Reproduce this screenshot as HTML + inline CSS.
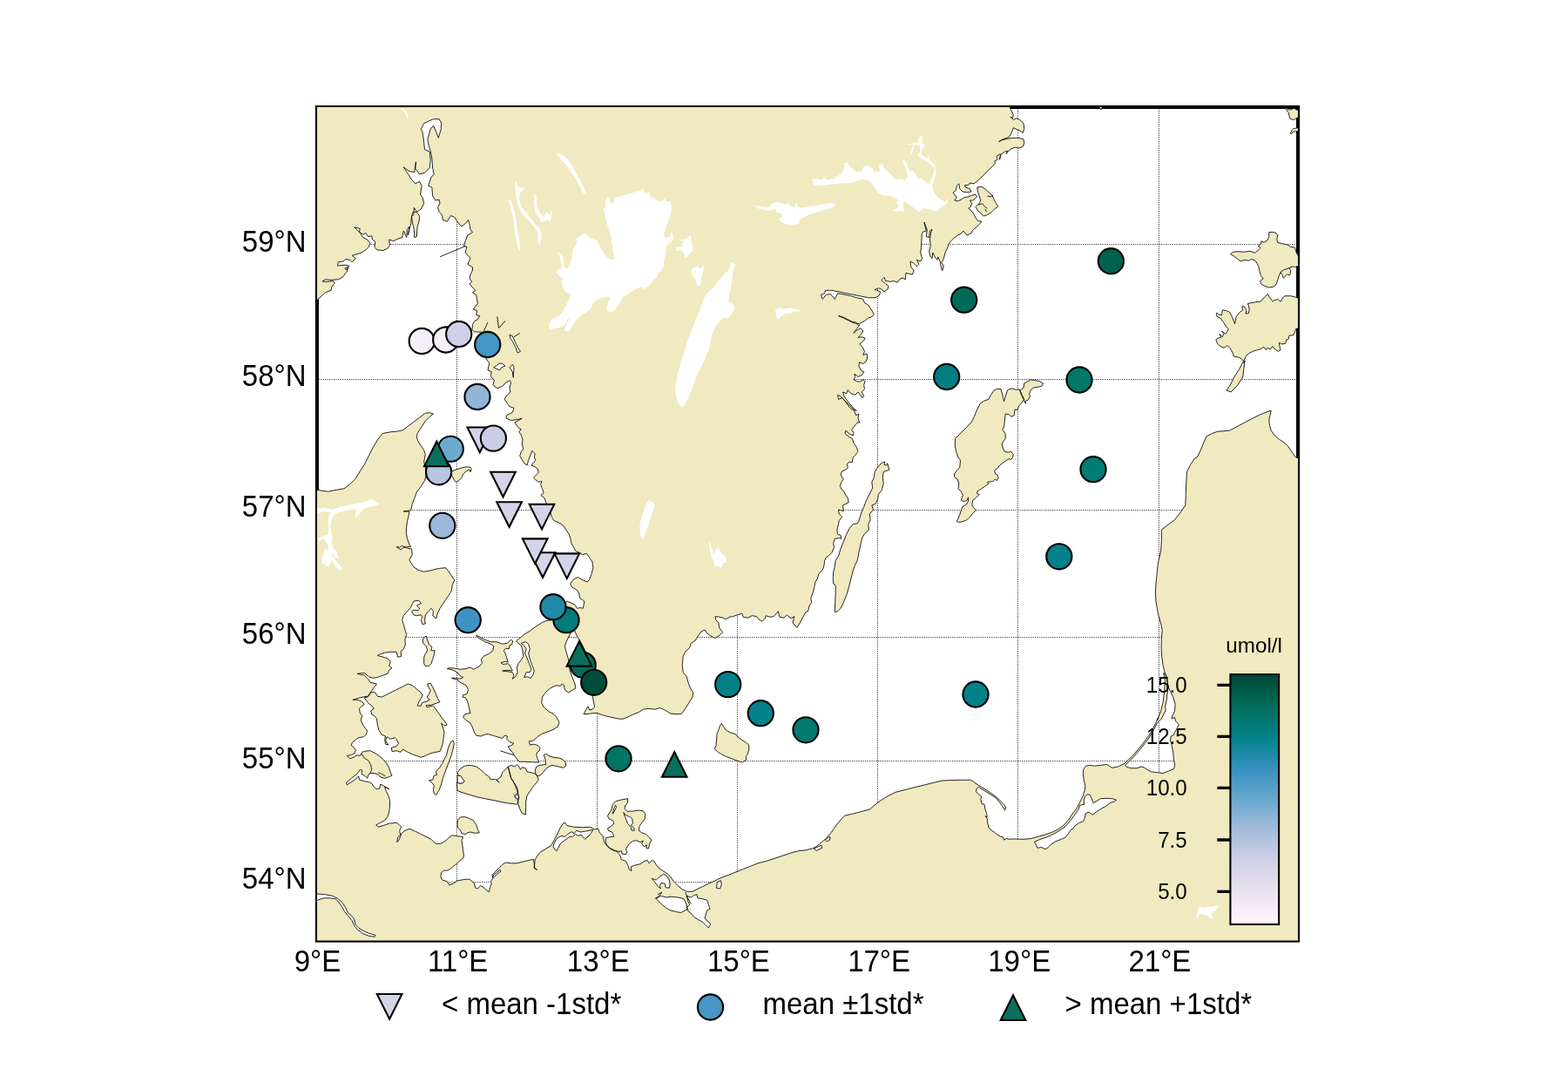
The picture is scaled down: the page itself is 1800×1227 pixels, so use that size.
<!DOCTYPE html>
<html lang="en"><head><meta charset="utf-8"><title>Station map</title>
<style>html,body{margin:0;padding:0;background:#fff}body{width:1800px;height:1227px;overflow:hidden}svg{display:block}text{font-family:"Liberation Sans",Arial,Helvetica,sans-serif;fill:#000}</style>
</head><body>
<svg width="1800" height="1227" viewBox="0 0 1800 1227">
<defs><clipPath id="ax"><rect x="363" y="122" width="1128" height="958.6"/></clipPath>
<linearGradient id="cb" x1="0" y1="1" x2="0" y2="0">
<stop offset="0" stop-color="#fff7fb"/>
<stop offset="0.125" stop-color="#ece2f0"/>
<stop offset="0.25" stop-color="#d0d1e6"/>
<stop offset="0.375" stop-color="#a6bddb"/>
<stop offset="0.5" stop-color="#67a9cf"/>
<stop offset="0.625" stop-color="#3690c0"/>
<stop offset="0.75" stop-color="#02818a"/>
<stop offset="0.875" stop-color="#016c59"/>
<stop offset="1" stop-color="#014636"/>
</linearGradient></defs>
<rect width="1800" height="1227" fill="#fff"/>
<g clip-path="url(#ax)">
<rect x="363" y="122" width="1128" height="958.6" fill="#fff" stroke="#000" stroke-width="6"/>
<path d="M524.5 122 V1080.6M685.5 122 V1080.6M846.5 122 V1080.6M1007.5 122 V1080.6M1168.5 122 V1080.6M1330.5 122 V1080.6M363 1012.5 H1491M363 873.5 H1491M363 731.5 H1491M363 585.5 H1491M363 435.5 H1491M363 280.5 H1491" fill="none" stroke="#000" stroke-width="1" stroke-dasharray="1.3 1.2" opacity="0.72"/>
<path d="M361.7 348.3 L365.8 342.5 L370 339.2 L373.3 335.8 L380 333.3 L380.8 329.2 L384.2 325 L382.5 322.5 L375.8 323.3 L370 323 L373.3 320.8 L380 321.3 L388.3 320.8 L393.3 318.3 L397.5 312.5 L399.2 310.8 L395.8 308.3 L399.2 306.7 L398.3 310 L400.8 305 L395 304.2 L387.5 305 L388.3 300.8 L394.2 300 L396.7 297.5 L401.7 298.3 L404.2 300.8 L408.3 296.7 L404.2 293.3 L410 291.7 L415 290 L420 286.7 L423.3 283.3 L425 279.2 L421.7 275 L416.7 272.5 L413.3 267.5 L406.7 260.8 L413.3 262.5 L412.5 265.8 L416.7 269.2 L420 267.5 L422.5 271.7 L426.7 270.8 L427.5 275 L430.8 277.5 L430 283.3 L432.5 286.7 L440 287.5 L445 285 L447.5 281.7 L446.7 275 L451.7 276.7 L456.7 274.2 L461.7 272.5 L463.3 265 L466.7 272.5 L467.5 263.3 L470 260 L468.3 270 L471.7 256.7 L472.5 248.3 L475 246.7 L475.3 238.3 L478.3 243.3 L483.3 240 L486.7 233.3 L485 226.7 L482.5 223.3 L484.2 213.3 L481.7 208.3 L476.7 210.8 L471.7 205 L467.5 198.3 L463.3 191.7 L470 196.7 L475.8 197.5 L477.5 185.8 L476.7 193.3 L481.7 200 L487.5 198.3 L493.3 192.5 L494.2 183.3 L493.3 174.2 L487.5 171.7 L486.3 160 L485 151.7 L483.3 148.3 L486.7 141.7 L491.7 139.2 L497.5 136.7 L504.2 136.7 L506.7 141.7 L506.3 148.3 L503.3 158.3 L500.8 151.7 L497.5 144.2 L494.2 148.3 L490.8 160 L492.5 168.3 L494.2 173.3 L495.8 181.7 L496.7 193.3 L498.3 200 L495 203.3 L491.7 213.3 L495.8 215 L496.7 225 L500 230 L504.2 229.2 L505 233.3 L502.5 238.3 L504.2 243.3 L507.5 246.7 L508.3 252.5 L513.3 254.2 L517.5 247.5 L521.7 249.2 L524.2 253.3 L526.7 256.7 L530 260 L534.2 256.7 L537.5 252.5 L539.2 258.3 L540 263.3 L542.5 266.7 L536.7 270 L534.2 276.7 L532.5 282.5 L535.8 283.3 L534.2 290 L537.5 293.3 L540 296.7 L536.7 303.3 L542.5 306.7 L542.5 310 L540 315 L539.2 320 L541.7 323.3 L539.2 325.8 L542.5 330 L545.8 333.3 L542.5 335.8 L546.7 338.3 L547.5 343.3 L548.3 348.3 L545.8 351.7 L543.3 355 L547.5 356.7 L546.7 361.7 L550.8 362.5 L548.3 366.7 L545 368.3 L542.5 372.5 L542 378.3 L544.2 380.8 L555 381.3 L556.7 410 L561.7 416.7 L560 425 L564.2 426.7 L563.3 431.7 L567.5 436.7 L565.8 441.7 L570.8 445.8 L576.7 443.3 L580.8 439.2 L585 436.7 L586.7 438.3 L585 445 L585.8 450 L580.8 455 L579.2 458.3 L582.5 463.3 L585 466.7 L590 468.3 L588.3 473.3 L581.7 476.7 L580.8 480 L586.7 482.5 L593.3 481.7 L599.2 480.3 L595 482.5 L590.8 485 L593.3 488.3 L595.8 491.7 L598.3 492.5 L595.8 495.8 L598.3 499.2 L600 505 L599.2 510 L600.8 515 L598.3 518.3 L596.7 523.3 L599.2 527.5 L601.7 531.7 L605 534.2 L606.7 528.3 L609.2 521.7 L610.8 517.5 L614.2 520.8 L613.3 525 L615 528.3 L611.7 531.7 L610 534.2 L614.2 535.8 L617.5 538.3 L618.3 542.5 L615 545.8 L612.5 548.3 L615 550.8 L618.3 553.3 L621.7 552.5 L620.8 556.7 L622.5 560.8 L624.2 565.8 L620.8 568.3 L625 571.7 L626.7 576.7 L630.8 585 L633.3 593.3 L635.8 597.5 L641.7 600 L646.7 603.3 L650 608.3 L653.3 613.3 L655 618.3 L655.8 623.3 L658.3 627.5 L660.8 632.5 L665 634.2 L668.3 636.7 L673.3 635.3 L676.7 640 L680 645 L680.8 651.7 L679.2 658.3 L676.7 665 L674.2 668 L669.2 665.8 L663.3 662.5 L658.3 665 L654.7 670 L656.7 674.2 L661.7 676.7 L664.2 680 L665.8 686.7 L668.3 688.3 L670.8 690 L670 695 L669.2 698.3 L665.8 697.5 L662.5 698.3 L660 694.2 L655 691.7 L650.8 690 L648.3 693.3 L653.3 701.7 L658.3 715 L660 725 L663.3 731.7 L667.5 738.3 L671.7 746.7 L676.7 756.7 L680 766.7 L683.3 776.7 L685 786.7 L682.5 795 L680 798.3 L681.7 806.7 L682.5 811.7 L680 814.2 L676.7 815 L675 810.8 L672.5 815 L670 819.7 L676.7 819.2 L685 818.3 L691.7 820.8 L701.7 823.3 L710 825 L715 825.3 L720 823.3 L726.7 820 L733.3 817.5 L738.3 814.2 L745 813.3 L751.7 814.2 L757.5 812.5 L763.3 815 L770 819.2 L778.3 819.7 L782.5 819.2 L786.7 813.3 L790.8 806.7 L795 800 L795.8 795 L792.5 790 L790 783.3 L788.3 776.7 L784.2 771.7 L783.3 763.3 L784.2 753.3 L786.7 748.3 L791.7 743.3 L793.3 738.3 L798.3 735 L802.5 728.3 L805 725 L809.2 723 L811.7 726.7 L815.8 730 L820.8 732.5 L825 730 L829.7 725.8 L825.8 720.8 L825 715 L821.7 711.7 L821.3 707.5 L826.7 708.3 L830 709.2 L833.3 710.8 L837.5 708.3 L841.7 707.5 L846.7 705.8 L851.7 704.2 L853.3 708.3 L858.3 709.2 L863.3 706.7 L868.3 707.5 L870.8 710.8 L875 713.3 L878.3 710 L879.2 706.7 L884.2 708.3 L888.3 707.5 L893.3 701.7 L895 708.3 L900 709.2 L903.3 705.8 L908.3 710 L911.7 707.5 L910 715 L915 720.3 L918.3 715 L921.7 708.3 L925 702.5 L927.5 701.7 L929.2 695 L931.7 691.7 L930.8 686.7 L933.3 680 L935 673.3 L935.8 668.3 L938.3 664.2 L940 658.3 L944.2 654.2 L945.8 650 L946.7 643.3 L948.3 640 L951.7 637.5 L955 634.2 L957.5 628.3 L956.7 623.3 L958.3 618.3 L963.3 617.5 L965.8 618.3 L965 614.2 L961.7 613.3 L960.8 608.3 L962.5 601.7 L963.3 597.5 L966.7 593.3 L963.3 590 L962.5 585 L968.3 586.7 L967.5 580 L974.2 576.7 L973.3 571.7 L970 566.7 L968.3 563.3 L967.5 563.3 L964.2 558.3 L965.8 553.3 L968.3 550 L965 545 L966.7 540.8 L970.8 539.2 L973.3 536.7 L972.5 532.5 L975 530 L978.3 530.8 L979.2 525 L981.7 522.5 L985 518.3 L983.3 513.3 L980 508.3 L978.3 503.3 L975 501.7 L970 497.5 L970.8 494.2 L975.8 498.3 L979.2 500 L980 496.7 L977.5 493.3 L980 490 L984.2 485 L986.7 485 L985 480 L985.8 475 L982.5 476.7 L980.8 471.7 L975.8 468.3 L971.7 462.5 L966.7 456.7 L962.5 458.3 L961.7 453.3 L965 455 L970 460 L975 465 L980 470 L983.3 471.7 L978.3 466.7 L973.3 460.8 L969.2 455 L967.5 450 L971.7 451.7 L973.3 447.5 L976.7 451.7 L981.7 453.3 L985 450 L990 456.7 L991.7 454.2 L989.2 450 L992.5 446.7 L991.7 441.7 L993.3 437.5 L990.8 435.8 L986.7 438.3 L983.3 437.5 L980 435.8 L981.7 432.5 L980.8 429.2 L985 432.5 L990 430 L991.7 426.7 L988.3 425 L985.8 420 L986.7 415.8 L990.8 417.5 L994.2 415 L995.8 410 L995 405.8 L990.8 407.5 L992.5 403.3 L990 398.3 L986.7 395 L990.8 391.7 L993.3 388.3 L989.2 386.7 L985 387.5 L988.3 384.2 L990.8 380 L988.3 376.7 L983.3 379.2 L980 382.5 L983.3 377.5 L986.7 373.3 L985 373.3 L982.5 370 L978.3 369.2 L973.3 366.7 L968.3 364.2 L962.5 362.5 L968.3 365 L975 368.3 L980 370.8 L986.7 371.7 L992.5 368.3 L996.7 365 L1000 364.2 L1003.3 360.8 L1000 355 L996.7 350 L992.5 347.5 L990.8 343.3 L983.3 341.7 L975 339.2 L966.7 337.5 L961.7 336.7 L958.3 343.3 L953.3 337.5 L948.3 338.3 L944.2 343.3 L942.5 338.3 L946.7 336.7 L947.5 333.3 L955 333.3 L963.3 335 L971.7 336.7 L980 338.3 L988.3 340 L996.7 341.7 L1005 341.7 L1009.2 339.2 L1010.8 335 L1006.7 333.3 L1004.2 332.5 L1008.3 330.8 L1011.7 331.7 L1015 335 L1019.2 331.7 L1020 328.3 L1016.7 325.8 L1011.7 321.7 L1015 318.3 L1016.7 322.5 L1021.7 323.3 L1025.8 322.5 L1030 324.2 L1033.3 320 L1036.7 319.2 L1039.2 320.8 L1040 313.3 L1043.3 314.2 L1047.5 315 L1049.2 310 L1045.8 306.7 L1045 300 L1048.3 301.7 L1052.5 305.8 L1055 303.3 L1052.5 298.3 L1056.7 300 L1058.7 296.7 L1056.7 290 L1057.5 283.3 L1058 275 L1058.3 268.3 L1060 265.8 L1063.3 265 L1060.8 255 L1064.2 263.3 L1063.3 271.7 L1066.7 272.5 L1067.5 265 L1070 263.3 L1068.3 268.3 L1067.5 275 L1068.3 281.7 L1066.7 288.3 L1067.5 293.3 L1070 296.7 L1070.8 290 L1073.3 295 L1075.8 298.3 L1076.7 295 L1079.2 300 L1080 305 L1081.7 310.8 L1083.3 305 L1080.8 301.7 L1083.3 296.7 L1085 290 L1087.5 285 L1089.2 280 L1091.7 276.7 L1095 273.3 L1099.2 270 L1103.3 268.3 L1105.8 265 L1110 270 L1115 267.5 L1116.7 264.2 L1121.7 260 L1125 256.7 L1126.7 254.2 L1122.5 253.3 L1120 250 L1117.5 245 L1115 241.7 L1111.7 239.2 L1114.2 237.5 L1115.8 233.3 L1113.3 230 L1116.7 230 L1121.7 225.8 L1120 223.3 L1115.8 224.2 L1111.7 225.8 L1106.7 226.7 L1103.3 229.2 L1099.2 230.8 L1095.8 230 L1098.3 226.7 L1095.8 223.3 L1094.2 220.8 L1097.5 218.3 L1098.3 213.3 L1100.8 210.8 L1101.7 216.7 L1105 220 L1110 220.8 L1115 220 L1113.3 216.7 L1108.3 215 L1107.5 212.5 L1111.7 212.5 L1113.3 210 L1118.3 210.8 L1123.3 206.7 L1128.3 201.7 L1133.3 196.7 L1138.3 191.7 L1142.5 187.5 L1141.7 185 L1145 183.3 L1144.2 179.2 L1148.3 176.7 L1147.5 183.3 L1149.2 177.5 L1153.3 174.2 L1156.7 173.3 L1155 176.7 L1159.2 171.7 L1165 169.2 L1170 170 L1174.2 168.3 L1175.8 164.2 L1175 160 L1170 158.3 L1163.3 158.3 L1156.7 159.2 L1150 160.8 L1146.7 162.5 L1151.7 159.7 L1158.3 157.5 L1160.8 153.3 L1163.3 146.7 L1166.7 148.3 L1170.8 150 L1174.2 152.5 L1175.8 147.5 L1175 141.7 L1170.8 137.5 L1166.7 135.8 L1163.3 137.5 L1160 134.2 L1162.5 135.8 L1163.3 131.7 L1160.8 126.7 L1159.2 123.3 L1158.3 116.7 L360 100ZM474.2 243.3 L478.3 243.3 L481.7 248.3 L480.8 255 L479.2 260 L478.3 271.7 L475.8 272.5 L475.3 263.3 L473.3 255 L472.5 248.3ZM361.7 562 L370 563.3 L376.7 564.2 L385 562.5 L395 560.8 L401.7 555.8 L408.3 549.2 L413.3 540.8 L418.3 533.3 L423.3 523.3 L428.3 513.3 L433.3 505 L439.2 497.5 L448.3 495.8 L456.7 495 L462.5 493.7 L468.3 489.2 L475 484.2 L481.7 479.2 L488.3 474.2 L493.3 473.8 L497.5 475 L493.3 478.3 L488.3 483.3 L485 488.3 L481.7 493.3 L479.2 497.5 L478.3 501.7 L480 506.7 L483.3 511.7 L486.7 516.7 L488.3 521.7 L486.7 530 L488.3 536.7 L489.2 545 L487.5 551.7 L483.3 558.3 L478.3 565 L475.8 571.7 L473.3 578.3 L471.7 585.8 L463.3 587 L470 587 L469.2 591.7 L467.5 598.3 L466.7 605 L466.3 611.7 L467.5 618.3 L470 625 L471.7 627.5 L464.2 628 L460 630.8 L455 627.5 L458.3 628.3 L461.7 626.7 L467.5 629.2 L472.5 630 L473.3 636.7 L470 642.5 L471.7 645.8 L475 650.8 L480 654.2 L486.7 656.3 L495 654.7 L503.3 652.5 L511.7 651.7 L515 655.8 L518.3 660.8 L521.7 665.8 L519.2 671.7 L518.3 678.3 L515 683.3 L511.7 688.3 L508.3 693.3 L505 698.3 L502.5 703.3 L500.8 710 L496.7 706.7 L497.5 701.7 L495 698.3 L491.7 701.7 L488.3 705.8 L487.5 711.7 L488.3 715.8 L485 716.7 L483.3 711.7 L485 708.3 L483.3 705.8 L478.3 706.7 L475 705.8 L472.5 701.7 L475 700 L480 700.8 L481.7 698.3 L478.3 695 L483.3 692.5 L480.8 689.2 L475 690 L473.3 693.3 L470.8 698.3 L466.7 702.5 L463.3 706.7 L461.7 711.7 L463.3 716.7 L465 723.3 L466.7 728.3 L465 733.3 L465.3 740 L463.3 745 L460 747.5 L460.8 753.3 L456.7 754.2 L455 748.3 L448.3 748.3 L441.7 749.2 L436.7 750.8 L433.3 752.5 L440 754.2 L445 755.8 L448.3 759.2 L446.7 764.2 L450 766.7 L446.7 769.2 L445 773.3 L440 775 L433.3 777.5 L428.3 778.3 L423.3 776.7 L418.3 772.5 L410 773.3 L414.2 774.2 L418.3 775 L422.5 779.2 L425 783.3 L432.5 785 L430 788.3 L426.7 792.5 L425 795 L422.5 799.2 L418.3 799.7 L413.3 800.8 L410 801.7 L405 803.3 L410.8 803.3 L415 805 L418.3 808.3 L415 810.8 L412.5 813.3 L413.3 818.3 L415.8 821.7 L414.2 826.7 L415.8 830 L417.5 833.3 L420 836.7 L421.7 839.2 L420 843.3 L417.5 845.8 L411.7 846.7 L408.3 849.2 L404.2 852.5 L403.3 855.8 L406.7 858.3 L408.3 861.7 L406.7 865 L402.5 866.7 L398.3 867.5 L401.7 870.8 L405.8 869.2 L410 866.7 L413.3 867.5 L415 864.7 L415.8 863.3 L420 862 L425 861.7 L430 864.2 L435 867.5 L440 871.7 L444.2 876.7 L446.7 881.7 L448.3 886.7 L450 890 L446.7 891.7 L441.7 893.3 L436.7 892 L434.2 889.2 L430 887.5 L426.7 887.5 L423.3 888.3 L421.7 893.3 L418.3 890 L415 888.3 L415.8 884.2 L413.3 883.3 L410 888.3 L403.3 893.3 L397.5 898.3 L398.3 900.8 L405 896.7 L410 892.5 L411.7 890.8 L412.5 895 L418.3 896.7 L423.3 897.5 L426.7 899.2 L429.2 903.3 L432.5 905.8 L435.8 905 L436.7 900 L440 901.7 L446.7 905.8 L441.7 903.3 L443.3 908.3 L445.8 913.3 L447.5 918.3 L447.5 925 L446.7 931.7 L445 937.5 L441.7 941.7 L436.7 944.2 L431.7 947 L434.2 949.2 L440 947.5 L446.7 945.3 L455 944.2 L458.3 946.7 L460.8 949.2 L458.7 953.3 L459.7 958.3 L456.7 960.8 L455.8 966.7 L458.3 963.3 L460.8 956.7 L465 953.3 L470 951.3 L476.7 954.2 L483.3 957.5 L490 960.8 L495 963.3 L498.3 966.7 L501.3 968.7 L506.7 968 L511.7 965 L515 961.7 L519.2 958.7 L525 959.7 L530 960.3 L531.7 960.8 L530 964.2 L530.8 970 L531.7 976.7 L532.5 981.7 L531.7 985 L526.7 989.2 L521.7 993.3 L516.7 997.5 L513.3 999.2 L509.2 999.2 L506.7 1001.7 L505.8 1005.8 L507.5 1010 L513.3 1011.7 L515.8 1015.8 L520 1014.2 L525 1010.8 L530 1010 L535 1009.2 L539.2 1009.2 L541.7 1011.7 L544.2 1013.3 L545.8 1019.2 L548.3 1020 L551.7 1016.7 L555 1018.3 L558.3 1021.7 L561.3 1023.7 L562.5 1019.2 L564.2 1014.2 L563.3 1011.7 L565.8 1008.3 L565 1004.2 L568.3 1000.8 L573.3 995.8 L576.7 992.5 L580 990 L586.7 990.8 L593.3 990.8 L600 989.2 L606.7 987.5 L612.5 986.3 L613.3 991.7 L613.3 996.7 L616.7 998.3 L613.3 995.8 L614.2 986.7 L616.7 982.5 L620 978.3 L626.7 974.2 L632.5 970.8 L636.7 963.3 L640 956.7 L643.3 950 L646.7 944.7 L648.7 944.2 L650.8 947.5 L658.3 949.2 L668.3 949.7 L677.5 949.3 L682.5 952 L686.7 951.3 L688.3 955.8 L692.5 960 L693.3 965.8 L695.8 970 L699.2 973.3 L703.3 975.8 L708.3 977.5 L711.7 981.7 L713.3 986.7 L718.3 988.3 L720.8 993.3 L722.5 998.3 L725 999.5 L724.2 995 L728.3 993.3 L735 991.7 L740 988.3 L743.3 987.5 L745 990.8 L748.3 987.5 L750.8 988.3 L753.3 992.5 L756.7 996.7 L761.7 1000 L766.7 1003.3 L770 1006.7 L773.3 1011.7 L778.3 1016.7 L783.3 1020.8 L788.3 1023.3 L795 1023.3 L800 1020.8 L806.7 1017.5 L813.3 1014.2 L820 1011.3 L825 1008.7 L830 1006.7 L836.7 1004.2 L845 1000.8 L853.3 997.5 L861.7 994.2 L870 990.8 L880 988.3 L890 985 L900 981.7 L910 978.3 L916.7 976.7 L925 975.8 L933.3 973.7 L938.3 970.8 L943.3 966.7 L948.3 962.5 L953.3 956.7 L957.5 950.8 L961.7 945 L965.8 940 L969.7 936.3 L978.3 934.2 L988.3 931.7 L998.7 928.8 L1005 923.3 L1011.7 918.3 L1020 913.3 L1028.3 909.2 L1038.3 906.7 L1050 903.7 L1061.7 900.8 L1073.3 898 L1081.7 896 L1091.7 895.5 L1103.3 895.3 L1114.7 895.3 L1120 899.2 L1126.7 903.3 L1133.3 907.5 L1140 912 L1145 915.8 L1149.2 920 L1152.5 923.3 L1154.7 926.7 L1153.7 930 L1150.8 925.8 L1147.5 920.8 L1143.3 915.8 L1136.7 911.7 L1130 907.5 L1123.3 903.3 L1121.3 905 L1120.3 908.3 L1123.3 911.7 L1126.7 914.2 L1125.8 917.5 L1127 922.5 L1130 923.3 L1130.8 928.3 L1132.5 933.3 L1133.3 937.5 L1130.8 937 L1133.3 939.2 L1133.7 945 L1135 950 L1138.3 953.3 L1141.7 955.3 L1145 958.3 L1148.3 960 L1151.7 960.8 L1152.5 964.2 L1155 962.5 L1159.2 963.3 L1163.3 963 L1166.7 963 L1175 963.3 L1183.3 962.5 L1191.7 960.3 L1200 958 L1208.3 955 L1215 951.7 L1221.7 946.7 L1226.7 940.8 L1231.7 933.3 L1236.7 926.7 L1240 920 L1243.3 913.3 L1245.3 906.7 L1245.8 901.7 L1244.2 895 L1243.3 888.3 L1243.7 883.3 L1246.7 879.2 L1250.8 878.3 L1256.7 879.2 L1263.3 878.3 L1270.8 877.5 L1273.3 879.2 L1276.7 881.3 L1283.3 880 L1290 877 L1295 872.5 L1301.7 865.8 L1308.3 858.3 L1313.3 851.7 L1318.3 845 L1322.5 838.3 L1326.7 830 L1330 823.3 L1328.3 826.7 L1332.5 816.7 L1335 806.7 L1336.7 793.3 L1337.5 781.7 L1335.7 772.5 L1337.3 773.3 L1340 778.3 L1340.8 790 L1339.2 803.3 L1337.5 811.7 L1338.3 815 L1335.8 820 L1333.3 825 L1328.3 830 L1324.2 838.3 L1319.2 846.7 L1314.2 853.3 L1308.3 860.8 L1301.7 868.3 L1295.8 874.2 L1291.7 878.7 L1293.3 880.3 L1298.3 881.7 L1305 881.7 L1310 880 L1313.3 880.8 L1316.7 883.3 L1321.7 885.8 L1328.3 886.7 L1335 887.5 L1341.7 885 L1347.5 882.5 L1348.7 878.3 L1347.5 871.7 L1346.7 863.3 L1345 855 L1343.3 850 L1344.2 845 L1346.7 844.2 L1350.8 836.7 L1353.3 831.7 L1350 828.3 L1348.3 823.3 L1345 825 L1345 823.3 L1348.3 816.7 L1349.2 808.3 L1346.7 800 L1341.7 790 L1338.7 776.7 L1336.7 770.3 L1335 763.3 L1333.7 753.3 L1333 743.3 L1333.3 733.3 L1334.2 723.3 L1332.5 715 L1330 706.7 L1328.3 698.3 L1327 690 L1326.3 680 L1327 670 L1328.3 656.7 L1329.2 648.3 L1330 643.3 L1332.5 633.3 L1333.3 621.7 L1333.3 608.3 L1341.7 601.7 L1348.3 596.7 L1355 588.3 L1360.8 580 L1361.3 568.3 L1361.7 555 L1362.5 541.7 L1366.7 533.3 L1371.7 525.8 L1374.2 525 L1378.3 516.7 L1381.7 508.3 L1385 500.8 L1391.7 497.5 L1397.5 495.3 L1405 494.7 L1411.3 494.2 L1420 489.7 L1428.3 485.3 L1436.7 480.8 L1446.7 475.8 L1455 472.5 L1459.2 471.3 L1458 476.7 L1456.7 482.5 L1457.5 488.3 L1459.2 494.2 L1463.3 500 L1468.3 504.2 L1473.3 507.5 L1478.3 511.7 L1481.7 516.7 L1485 521.7 L1487.5 525 L1493.3 526.7 L1495 1085 L360 1085ZM546.7 729.2 L550 730.8 L556.7 734.2 L563.3 736.7 L570 736.7 L576.7 739.2 L582.5 738.3 L586.7 734.2 L588.7 735.8 L587.5 740 L585 740.8 L584.2 745 L580.8 744.2 L578.3 746.7 L580 750 L581.7 755 L583.3 760 L580 759.2 L575 760.8 L577.5 762.5 L583.3 761.7 L585.8 765 L588.3 770 L581.7 769.2 L576.7 770 L583.3 770.8 L588.3 771.7 L590 775 L588.3 779.2 L591.7 776.7 L594.2 771.7 L593.3 766.7 L595 761.7 L598.3 757.5 L600.8 753.3 L600 746.7 L598.3 740.8 L595 738.3 L592.5 735.8 L596.7 732.5 L601.7 728.3 L608.3 724.2 L615 719.2 L621.7 715 L626.7 712.5 L633.3 711.7 L643.3 713.3 L651.7 716.7 L656.7 722.5 L653.3 730 L650.8 735 L648.3 741.7 L650 748.3 L652.5 756.7 L653.3 763.3 L654.2 770 L656.7 776.7 L660 785 L660.8 790 L655 793.3 L652.5 795 L648.3 791.7 L647.5 786.7 L645 785 L643.3 787.5 L638.3 786.7 L631.7 790 L626.7 794.2 L622.5 800 L621.7 806.7 L624.2 811.7 L630 816.7 L635 819.2 L638.3 822.5 L641.7 828.3 L642 830 L640 834.2 L635 837.5 L628.3 840 L621.7 842.5 L616.7 845.8 L613.3 849.2 L612.5 850 L607.5 850.8 L608.3 855 L613.3 854.2 L617.5 855.8 L620 858.3 L619.2 861.7 L616.7 863.3 L615.8 866.7 L617.5 871.7 L618.7 875 L610 874.7 L601.7 874.3 L595.8 874.2 L593.3 870.8 L590 866.7 L588.3 863.3 L585 860 L583.3 856.7 L586.7 855.8 L590 853.3 L585 851.7 L581.7 848.3 L582.5 845 L579.2 844.2 L576.7 847.5 L568.3 845 L560 842.5 L556.7 843.3 L551.7 845 L546.7 844.2 L544.2 840 L542.5 835 L540 830 L535 826.7 L531.7 823.3 L533.3 820 L540 818.3 L538.3 811.7 L536.7 805 L534.2 800.8 L530.8 800 L531.7 797.5 L535.8 796.7 L537.5 791.7 L535 786.7 L528.3 783.3 L525 780 L523.3 780 L518.3 778.3 L523.3 778.3 L528.3 779.2 L531.7 777.5 L528.3 775.8 L525 771.7 L520 769.2 L513.3 767.5 L515 766.7 L521.7 767 L528.3 768.3 L535 767.5 L540 765.8 L543.3 768.3 L546.7 766.7 L550 765 L553.3 761.7 L552.5 756.7 L555 753.3 L561.7 750 L565.8 746.7 L566.7 741.7 L563.3 739.2 L556.7 736.7 L548.3 731.7ZM426.7 794.2 L430.8 795 L433.3 799.2 L438.3 800 L445 796.7 L453.3 792.5 L461.7 788.3 L468.3 785 L473.3 786.7 L478.3 790.8 L483.3 795 L485 798.3 L483.3 801.7 L480.8 805.8 L479.2 810 L483.3 810.3 L484.2 806.7 L490 805 L493.3 803.3 L490 800 L492.5 796.7 L494.2 792.5 L491.7 788.3 L490.8 785 L494.2 784.2 L497.5 790 L500 795.8 L502.5 801.7 L505 805.8 L500 807.5 L495 809.2 L489.2 809.7 L490 811.7 L496.7 810 L500 813.3 L503.3 818.3 L506.7 823.3 L510 827.5 L513.3 831.7 L510 833.3 L506.7 830 L508.3 835 L510 840 L509.2 846.7 L508.3 853.3 L506.7 858.3 L505 862.5 L500 863.3 L493.3 865 L488.3 867.5 L483.3 869.2 L478.3 867.5 L473.3 865.8 L470 864.2 L466.7 862.5 L462.5 860 L460 863.3 L455 861.7 L450 862.5 L449.2 858.3 L455 856.7 L457.5 853.3 L455 848.3 L453.3 846.7 L448.3 848.3 L444.2 845.8 L442.5 850 L445.8 855 L442.5 854.2 L441.7 848.3 L442.5 845 L438.3 843.3 L435 838.3 L433.3 831.7 L432.5 825 L430 821.7 L426.7 820 L425.8 815.8 L429.2 813.3 L426.7 810 L423.3 807.5 L420 803.3 L418.3 800.8 L422.5 799.7ZM486.7 731.7 L489.2 730 L490.8 735 L492.5 740 L495.8 742.5 L495 746.7 L499.2 746.7 L498.3 751.7 L496.7 756.7 L495 761.7 L492.5 764.2 L488.3 764.7 L486.7 761.7 L486.7 755 L487.5 751.7 L490.8 746.7 L489.2 741.7 L485.8 738.3 L485.3 734.2ZM520 850 L521.3 853.3 L520 860 L518.3 866.7 L515.8 873.3 L513.3 880 L510.8 886.7 L508.3 893.3 L506.7 900 L504.2 906.7 L500.8 912.5 L498.3 910.8 L497.5 906.7 L498.3 901.7 L495.8 898.3 L492.5 895.8 L496.7 895 L498.3 890 L501.7 889.2 L500 885.8 L504.2 881.7 L507.5 876.7 L510 871.7 L512.5 866.7 L514.2 860 L515.8 855 L518.3 850.8ZM525 886.7 L528.3 882.5 L533.3 879.2 L540 878.3 L546.7 880 L551.7 883.3 L556.7 888.3 L561.7 891.7 L563.3 895 L568.3 894.2 L573.3 898.3 L570 895 L575 891.7 L576.7 886.7 L580 883.3 L583.3 880 L585 886.7 L586.7 893.3 L590 898.3 L593.3 903.3 L595 910 L591.7 912.5 L590.8 915 L594.2 916.7 L595 920.8 L593.3 923.3 L588.3 922.5 L581.7 921.7 L573.3 920 L565 918.3 L556.7 916.7 L548.3 915 L540 912.5 L531.7 910 L525 907.5 L524.2 898.3 L530 899.2 L533.3 896.7 L529.2 895 L526.7 891.7ZM583.3 880 L586.7 878.3 L590.8 880 L593.3 877.5 L595.8 880 L597.5 883.3 L599.2 880.8 L603.3 881.7 L605 885.8 L610 886.7 L615 888.3 L616.7 890.8 L618.3 895 L615.8 898.3 L611.7 903.3 L608.3 908.3 L605 913.3 L603.7 920 L603.7 926.7 L603.3 935 L599.2 933.3 L596.7 928.3 L595 923.3 L594.2 920 L595.8 915.8 L595 911.7 L593.3 906.7 L590 898.3 L586.7 893.3 L585 886.7ZM614.2 884.2 L615.8 880 L620 878.3 L626.7 877.5 L625.8 870.8 L624.2 866.7 L626.7 865 L630 867.5 L635 869.2 L641.7 870 L645.8 871.7 L649.2 875 L649.7 879.2 L646.7 881.3 L641.7 880 L637.5 879.2 L633.3 878.3 L630 880 L626.7 882.5 L623.3 886.7 L620 890 L616.7 890.8 L615 888.3ZM525 945 L525.8 940.8 L528.3 938 L533.3 937.5 L538.3 939.2 L543.3 941.7 L546.7 946.7 L548.3 951.7 L550.3 955.8 L545 956.3 L540 955 L536.7 955.8 L534.2 957.5 L530 956.7 L528.3 952.5 L525.3 950ZM516.7 543.3 L518.3 540.8 L523.3 539.2 L528.3 537.5 L535 535.8 L540 536.3 L541.3 538.3 L540 541.7 L539.2 539.2 L535 540.8 L531.7 544.2 L530 548.3 L526.7 551.7 L523.3 553.3 L520.8 550 L519.2 546.7ZM828.3 830.3 L830.8 834.2 L833.3 838 L838.3 840.8 L844.2 842.5 L846.7 845.8 L851.7 849.2 L856.7 852.5 L859.7 855 L859.7 860.8 L858.3 865.8 L856.3 868.3 L856.7 872 L852.5 875 L846.7 873.3 L840 870.8 L833.3 868.3 L827.5 865.3 L823.3 862.5 L820.3 859.7 L822 855.8 L822.5 850 L823 842.5 L825.3 836.7 L826.7 832.5ZM698.3 935 L701.7 930 L703.3 923.3 L706.7 919.7 L713.3 918 L720.8 916.7 L720.3 921.7 L717.5 925 L717 928.3 L720 931.3 L726.7 931 L733.3 930 L738.3 930.8 L740.8 934.2 L740.3 940 L736.7 944.2 L734.2 948.3 L733.3 953.3 L736.7 955.8 L741.7 957.5 L745 960.8 L748 964.2 L745.8 968.3 L744.2 974.2 L741.7 973.3 L742.5 970 L739.2 971.7 L736.7 968.3 L738.3 965 L735 966.7 L730.8 964.7 L726.7 965.3 L722.5 968.3 L720 971.7 L718.3 975 L720 977.5 L718.3 980.8 L714.2 980 L713.3 976.7 L710 977.5 L705 975.8 L700 973.3 L696.7 970 L695 965.8 L695.8 961.7 L700 960.8 L705 960 L702.5 955 L698.3 953.3 L697.5 950.8 L701.7 948.3 L705 945 L703.3 941.7 L699.2 940 L697.5 936.7ZM1013.3 530.8 L1015.8 530 L1015 533.3 L1017.5 534.2 L1018.7 531.7 L1020.8 539.2 L1016.7 540.8 L1014.2 541.7 L1013.3 548.3 L1014.2 555 L1012.5 561.7 L1011.7 563.3 L1008.3 567.5 L1007.5 573.3 L1005 578.3 L1000.8 580 L1002.5 585 L998.3 590 L999.2 596.7 L996.7 601.7 L997.5 608.3 L993.3 611.7 L990 616.7 L988.3 623.3 L985.8 635 L984.2 643.3 L981.7 648.3 L979.2 655 L976.7 665 L974.2 675 L971.7 683.3 L968.3 691.7 L965 698.3 L961.7 701.7 L958.3 702.5 L958.7 691.7 L959.2 680 L959.2 671.7 L956.7 670 L956.3 663.3 L956.7 656.7 L958.3 650 L959.2 643.3 L962.5 638.3 L965 630 L968.3 621.7 L971.7 613.3 L975 606.7 L979.2 601.7 L984.2 600.8 L985.8 598.3 L988.3 590 L991.7 581.7 L995 573.3 L998.3 566.7 L1001.7 560 L1000.8 553.3 L1003.3 548.3 L1004.2 541.7 L1006.7 537.5 L1010 533.3ZM1096.7 503.3 L1100 500 L1105 495 L1110 490 L1115 485 L1118.3 478.3 L1121.7 470 L1125 463.3 L1130 460 L1135 458.3 L1137.5 453.3 L1140.8 448.3 L1145 446.3 L1149.2 446.7 L1150.8 453.3 L1152.5 460.8 L1154.2 455 L1156.7 447.5 L1161.7 445.8 L1166.7 447.5 L1170 446.7 L1173.3 453.3 L1175.8 458.3 L1173.3 461.7 L1170 465.8 L1167.5 470.8 L1165 470 L1164.2 476.7 L1160.8 478.3 L1158.3 475.8 L1154.2 475 L1153.3 483.3 L1152.5 490 L1150.8 493.3 L1154.2 498.3 L1154.2 503.3 L1151.7 506.7 L1150 510 L1151.7 515 L1153.3 518.3 L1157.5 519.2 L1160.8 518.3 L1163.3 521.7 L1162.5 525 L1160.8 527.5 L1158.3 526.7 L1154.2 529.2 L1150.8 531.7 L1147.5 534.2 L1145 537.5 L1141.7 540 L1142.5 543.7 L1145 545 L1146.3 548.3 L1144.2 551.7 L1142.5 550 L1140 552.5 L1133.3 553.3 L1135 555 L1131.7 557.5 L1126.7 560.8 L1121.7 564.2 L1121.7 566.7 L1124.2 567.5 L1120 571.7 L1116.7 574.2 L1115.8 580 L1117.5 582.5 L1120.3 585.8 L1116.7 589.2 L1113.3 593.3 L1110 596.7 L1105 598.7 L1100.8 599.5 L1098.3 598.3 L1100 595 L1101.7 590.8 L1103.3 585.8 L1105 581.7 L1109.2 579.2 L1111.3 575.8 L1111.7 570.8 L1110 574.2 L1106.7 575.8 L1103.3 574.2 L1104.2 571.7 L1105.3 568.3 L1103.3 564.2 L1100 560.8 L1100.8 555 L1099.2 550 L1095.8 547.5 L1095.3 544.2 L1098.3 540 L1101.7 536.7 L1102.5 528.3 L1100 525 L1097.5 518.3 L1096.3 511.7 L1096.7 503.3ZM1170.8 448.3 L1175 445 L1175.8 440 L1180 437.5 L1183.3 435.8 L1188.3 436.7 L1193.3 437.5 L1197.5 440 L1195.8 443.3 L1191.7 444.2 L1186.7 445 L1183.3 447.5 L1181.7 451.7 L1182.5 455 L1180 459.2 L1176.7 460.8 L1177.5 463.3 L1175 458.3 L1172.5 453.3ZM1121.7 215 L1126.7 214.2 L1130.8 216.7 L1135 220.8 L1138.3 223.3 L1140.8 228.3 L1143.3 233.3 L1145.8 236.7 L1141.7 240 L1138.3 243.3 L1133.3 246.7 L1129.2 248 L1125.8 245 L1122.5 241.7 L1120 237.5 L1123.3 234.2 L1125.8 230 L1124.2 225 L1122.5 220ZM1412.5 291.7 L1415.8 289.2 L1421.7 288.7 L1428.3 289.2 L1435 288.3 L1440.8 290.3 L1445 286.7 L1446.7 284.2 L1444.2 282.5 L1447.5 280 L1448 276.7 L1450.8 278.3 L1455 275.8 L1456.7 271.7 L1456.7 266.7 L1460.8 266.3 L1465 267.5 L1466.7 270 L1465.8 275 L1466.7 278.3 L1471.7 279.7 L1477.5 280.8 L1481.7 283.3 L1486.7 284.2 L1487.5 288.3 L1490 293.3 L1496.7 293.3 L1496.7 305 L1490.8 305 L1486.7 306.7 L1484.2 305.8 L1480 307.5 L1481.7 310.8 L1480.8 315.8 L1477.5 315 L1473.3 319.2 L1471.7 315 L1470 312.5 L1468.3 316.7 L1466.7 321.7 L1465 326.7 L1461.7 329.2 L1456.7 330 L1451.7 328.3 L1447.5 325.8 L1446.7 322.5 L1450 320 L1447.5 316.7 L1445.8 310.8 L1445 306.7 L1443.3 302.5 L1440.8 299.2 L1436.7 297.5 L1433.3 299.2 L1428.3 298.3 L1424.2 300 L1420 296.7 L1416.7 294.2ZM1396.7 359.2 L1399.2 360.8 L1402.5 361.7 L1403.3 355.8 L1408.3 356.7 L1411.7 358.3 L1415 365 L1417.5 371.7 L1419.2 363.3 L1423.3 358.3 L1426.7 355.8 L1425.8 351.7 L1428.3 351.7 L1430.8 355.8 L1430 360 L1433.3 359.7 L1434.2 355 L1432.5 348.3 L1440 347 L1447.5 345.8 L1451.7 340.8 L1455.3 337.5 L1458.3 342.5 L1460.8 345.8 L1464.2 344.2 L1466.7 343.3 L1470 346.3 L1472.5 341.7 L1475 339.7 L1481.7 339.7 L1486.7 340.8 L1490.8 342.5 L1496.7 342.5 L1496.7 376.7 L1490.8 376.7 L1487.5 377.5 L1486.7 380.8 L1484.2 385 L1480 385 L1479.2 389.2 L1476.7 390 L1475.8 394.2 L1471.7 395 L1468.3 393.3 L1469.2 398.3 L1470 401.7 L1467.5 403.3 L1463.3 400.8 L1460.8 397.5 L1458.3 400.8 L1455 399.2 L1453.3 401.7 L1450.8 398.3 L1446.7 400.8 L1443.3 401.7 L1438.3 403.3 L1433.3 405.8 L1430 409.2 L1428.3 413.3 L1428 416.7 L1429 414 L1426.7 433 L1420 443 L1413 450 L1408 448 L1411.7 443 L1416.7 433 L1423 423 L1425.8 417.5 L1427.5 414.2 L1425 411.7 L1421.7 410 L1416.7 409.2 L1415 405 L1413.3 401.7 L1411.7 399.2 L1409.2 396.7 L1405 399.2 L1400.8 397.5 L1397.5 394.2 L1395.8 390 L1397.5 388.3 L1401.7 387.5 L1400 383.3 L1403.3 386.7 L1405 382.5 L1402.5 380 L1406.7 383.3 L1409.2 380 L1410 377.5 L1407.5 375 L1405.8 371.7 L1403.3 368.3 L1400.8 365 L1397 363.3 L1396.3 360.8ZM1475 122.9 L1477.1 124.2 L1478.3 125.8 L1482.5 125.8 L1485.4 124.2 L1487.5 125.8 L1491.7 126.7 L1491.7 135 L1489.2 135 L1486.7 136.7 L1484.2 137.5 L1481.2 136.2 L1480 133.3 L1479.2 129.2 L1477.1 126.7ZM1481.2 153.3 L1483.3 149.2 L1485 147.5 L1491.7 146.7 L1491.7 150.4 L1486.7 150.8 L1484.2 151.7 L1482.5 153.3ZM1261 122 L1266 122 L1264 126Z" fill="#f1e9bf" stroke="#000" stroke-width="0.85" stroke-linejoin="round" fill-rule="evenodd"/>
<path d="M361.7 583.3 L373.3 583.3 L381.7 585 L390 581.7 L398.3 580 L406.7 578.3 L415 576.7 L423.3 574.2 L426.7 572.5 L430 574.2 L435.8 578.3 L430 580.8 L423.3 581.7 L418.3 583.3 L415 586.7 L411.7 591.7 L408.3 595 L407.5 590 L410 585 L403.3 585 L395 586.7 L388.3 588.3 L383.3 591.7 L380.8 596.7 L379.2 603.3 L380 610 L381.7 616.7 L380.8 623.3 L383.3 630 L386.7 633.3 L388.3 641.7 L385 640 L381.7 635 L379.2 638.3 L380 645 L377.5 650 L373.3 650 L374.2 643.3 L375.8 635 L376.7 626.7 L373.3 620 L370 618.3 L366.7 621.7 L365 618.3 L371.7 615 L376.7 613.3 L377.5 606.7 L376.7 600 L377.5 593.3 L379.2 588.3 L373.3 586.7 L368.3 588.3 L361.7 590ZM373.3 630 L378.3 633.3 L383.3 640 L388.3 646.7 L393.3 651.7 L390 655 L385 650 L381.7 645 L377.5 640 L374.2 645 L370 648.3 L369.2 641.7 L371.7 635 L372.5 630ZM705 226.7 L713.3 225 L720 222.5 L728.3 220.8 L733.3 219.2 L738.3 216.7 L740.8 221.7 L745.8 220.8 L747.5 227.5 L750 226.7 L755 230.8 L760 231.7 L762.5 226.7 L765 231.7 L770 230.8 L770.8 238.3 L770 246.7 L766.7 255 L764.2 261.7 L761.7 268.3 L764.2 273.3 L769.2 271.7 L770.8 265 L773.3 273.3 L770 278.3 L765 281.7 L764.2 290 L762.5 298.3 L761.7 306.7 L759.2 310.8 L755.8 313.3 L754.2 318.3 L750 321.7 L746.7 326.7 L741.7 330 L738.3 332.5 L736.7 329.2 L730 331.7 L725 335 L720 338.3 L715 340.8 L712.5 345 L710 350 L706.7 355 L702.5 357.5 L697.5 357.5 L696.3 353.3 L698.3 346.7 L700.8 341.7 L696.7 340.8 L690 341.7 L683.3 345 L680 349.2 L678.3 354.2 L673.3 358.3 L666.7 362.5 L661.7 366.7 L657.5 373.3 L654.2 379.2 L650 380.8 L647.5 378.3 L650 373.3 L653.3 366.7 L655 364.2 L651.7 366.7 L648.3 373.3 L643.3 375.8 L636.7 376.7 L630.8 378.3 L630 373.3 L632.5 367.5 L636.7 364.2 L641.7 362.5 L645.8 357.5 L650 350 L653.3 343.3 L655.8 338.3 L650 335.8 L646.7 331.7 L645 325 L645.8 318.3 L641.7 316.7 L638.3 313.3 L640 309.2 L644.2 308.3 L644.2 300 L642.5 295 L639.2 289.2 L641.7 290 L646.7 295.8 L647.5 306.7 L651.7 308.3 L654.2 303.3 L656.7 295 L657.5 286.7 L661.7 280 L662.5 273.3 L666.7 270 L670.8 268.3 L675 270 L676.7 273.3 L681.7 274.2 L685.8 276.7 L688.3 281.7 L690.8 286.7 L693.3 290.8 L696.7 295 L701.7 298.3 L705 296.7 L704.2 290 L702.5 280 L700.8 270 L698.3 261.7 L695.8 253.3 L694.2 245 L692.5 240 L695 237.5 L694.7 231.7 L697.5 225 L700 228.3 L700.8 233.3 L704.2 233.3ZM840 300.8 L844.2 304.2 L841.7 310 L840.8 316.7 L840 325 L838.3 333.3 L836.7 341.7 L835.8 345.8 L841.7 348.3 L843.3 355 L840 360 L836.7 365 L831.7 364.2 L828.3 366.7 L823.3 371.7 L820 378.3 L816.7 385 L815.8 391.7 L814.2 400 L808 415 L800 430 L795 445 L790 458 L783 468 L778 462 L775 448 L777 432 L782 415 L786.7 400 L788.3 393.3 L791.7 385 L795 376.7 L798.3 368.3 L801.7 360 L805 351.7 L807.5 345 L810 338.3 L815 333.3 L820 328.3 L825 321.7 L829.2 316.7 L832.5 313.3 L836.7 310 L838.3 305ZM780 275 L786.7 274.2 L793.3 270 L794.2 278.3 L795.8 286.7 L791.7 291.7 L786.7 296.7 L785 290 L781.7 287.5 L775 287.5 L776.7 284.2 L783.3 282.5 L784.2 278.3ZM794.2 308.3 L800 305.8 L805 308.3 L806.7 304.2 L808.3 306.7 L805.8 316.7 L804.2 328.3 L800 327.5 L798.3 320 L795 316.7 L793.3 311.7ZM639.3 176 L645 177.3 L651.7 182.7 L656.7 190 L660.7 197.3 L665 205 L669.3 213.3 L673.3 224 L670 222.7 L666 215 L661.7 207.3 L656.7 199.3 L651.7 191.7 L646 185 L640.7 180ZM613.3 223.3 L615.8 224.2 L616.7 238.3 L620 245 L624.2 248.3 L628.3 243.3 L630 247.5 L634.2 240.8 L633.3 248.3 L630.8 255 L629.2 251.7 L625 254.2 L621.7 255 L617.5 248.3 L614.2 241.7 L613 233.3ZM598.3 239.2 L605 245 L610 251.7 L616.7 260 L621.7 266.7 L620.8 275 L619.2 281.7 L617.5 276.7 L618.3 268.3 L614.2 261.7 L608.3 254.2 L603.3 248.3 L598.3 244.2ZM595 214.2 L600 215.8 L603.3 216.7 L600 218.3 L595 217.5ZM865.8 235.8 L873.3 236.7 L881.7 238.3 L886.7 233.3 L891.7 231.7 L898.3 233.3 L900 234.2 L900 235 L904.2 233.3 L907.5 235.8 L911.7 238.3 L914.2 232.5 L915.8 237.5 L921.7 238.3 L930 236.7 L938.3 235.8 L946.7 234.2 L955 233 L960 234.2 L956.7 238.3 L950 240 L943.3 241.7 L936.7 244.2 L930 245.8 L923.3 249.2 L918.3 251.7 L916.7 256.7 L910 258.3 L903.3 257.5 L900 256.7 L896.7 255 L893.3 251.7 L898.3 248.3 L896.7 245 L891.7 244.2 L890 240 L883.3 241.7 L876.7 240.8 L870 239.2ZM890 355 L895 353.3 L900 354.2 L906.7 353.3 L913.3 355 L920 356.7 L911.7 358.3 L905 360 L900 360.8 L896.7 363.3 L893.3 366.7 L890.8 361.7ZM932.5 205.8 L938.3 205 L944.2 206.7 L945.8 202.5 L949.2 206.7 L956.7 205 L965 200 L968.3 195.8 L970 186.7 L973.3 187.5 L976.7 192.5 L981.7 196.7 L988.3 197.5 L990.8 191.7 L996.7 190 L1001.7 193.3 L1003.3 197.5 L1010 196.7 L1009.2 190 L1012.5 188.3 L1016.7 195.8 L1021.7 198.3 L1025 203.3 L1028.3 206.7 L1033.3 205 L1038.3 207.5 L1041.7 203.3 L1040 193.3 L1035.8 185 L1038.3 183.3 L1041.7 190 L1045 196.7 L1048.3 195.8 L1050.8 200 L1053.3 205 L1057.5 204.2 L1061.7 208.3 L1066.7 211.7 L1068.3 206.7 L1071.7 200 L1072.5 193.3 L1066.7 186.7 L1060 183.3 L1053.3 178.3 L1056.7 173.3 L1055.8 166.7 L1050 165.8 L1046.7 176.7 L1045 177.5 L1048.3 165.8 L1039.2 165.5 L1050 164.2 L1053.3 164.2 L1055.8 156.7 L1059.2 155.8 L1058.3 164.2 L1061.7 166.7 L1058.3 171.7 L1057.5 176.7 L1064.2 182.5 L1065.8 176.7 L1067.5 183.3 L1073.3 190 L1075 198.3 L1071.7 206.7 L1070 215 L1071.7 220 L1076.7 226.7 L1081.7 230 L1085.8 231.7 L1087.5 226.7 L1088.3 231.7 L1085 235 L1080 238.3 L1076.7 242.5 L1071.7 241.7 L1065 240 L1060 239.2 L1055 243.3 L1050.8 240 L1046.7 236.7 L1041.7 233.3 L1037.5 231.7 L1036.7 238.3 L1037.5 242.5 L1026.7 242.5 L1024.2 241.7 L1030 239.2 L1031.7 235 L1028.3 233.3 L1031.7 230 L1026.7 226.7 L1020 224.2 L1013.3 224.2 L1008.3 221.7 L1005 216.7 L1001.7 211.7 L996.7 206.7 L990 205.8 L983.3 207.5 L976.7 210 L970 210 L961.7 210.8 L955 211.7 L946.7 212.5 L940 213.3 L935 213.3 L933.3 210ZM590.8 206.7 L593.3 210 L595 216.7 L600 215 L603.3 216.7 L597.5 220 L595.8 226.7 L598.3 236.7 L603.3 243.3 L608.3 251.7 L613.3 256.7 L620 263.3 L621.7 273.3 L620 280 L617.5 275 L617.5 266.7 L613.3 260.8 L606.7 253.3 L600.8 246.7 L595.8 238.3 L593.3 230 L591.7 220ZM582.5 228.3 L586.7 230 L590 240 L592.5 251.7 L593.3 261.7 L595 270 L596.7 280 L597.5 290 L594.2 283.3 L592.5 275 L590.8 266.7 L590 256.7 L588.3 246.7 L585.8 236.7ZM460 124.2 L465 125.8 L468.3 131.7 L468 137.5 L465.8 131.7 L463.3 127.5ZM745 575 L750 576.7 L751.7 580 L749.2 586.7 L746.7 595 L744.2 603.3 L740.8 613.3 L737.5 620 L735 613.3 L734.2 603.3 L736.7 593.3 L740 583.3 L742.5 576.7ZM813.3 621.7 L815.8 624.2 L817.5 630 L819.2 636.7 L821.7 630 L824.2 627.5 L826.7 633.3 L830 636.7 L833.3 640 L834.2 645 L830 646.7 L828.3 651.7 L824.2 650 L820.8 650.8 L820 645 L816.7 640 L815 633.3ZM1376.3 1040.5 L1381 1041.7 L1386.8 1041.1 L1392.7 1039.9 L1399.1 1039.3 L1397.9 1043.4 L1393.8 1045.8 L1390.3 1048.7 L1391.5 1052.2 L1392.1 1055.7 L1389.2 1053.3 L1385.7 1050.4 L1382.2 1049.8 L1378.7 1048.7 L1375.2 1052.2 L1374 1056.8 L1373.8 1049.8 L1375.2 1045.2Z" fill="#fff"/>
<path d="M585 384.2 L588.3 385.8 L591.7 393.3 L595 400 L597.5 403.3 L594.2 405 L591.7 398.3 L588.3 391.7 L585.8 388.3ZM566.7 421.7 L570.8 419.2 L573.3 416.7 L576.7 417.5 L580 420 L575.8 421.7 L573.3 425 L570 423.3ZM585 421.7 L588.3 418.3 L590 421.7 L589.2 433.3 L588.3 426.7ZM1187.5 966.3 L1193.3 963.7 L1201.7 960.8 L1210 957 L1216.7 953 L1223 948.7 L1228.3 942.5 L1233.3 935.8 L1238 929.2 L1239.7 924.2 L1244.7 923.3 L1244.2 919.2 L1245.3 914.7 L1248 911.7 L1251.3 912.5 L1253.3 917 L1255 921.7 L1259.2 919.2 L1263.3 916.7 L1270 916.3 L1276.7 916.7 L1281.7 918.3 L1279.2 920 L1275 921.3 L1270 925 L1263.3 928.7 L1258.3 932 L1254.2 935.3 L1250 932 L1246.3 933.7 L1245.3 938.7 L1243.3 943 L1238.3 944.7 L1233.7 948 L1231.7 951.3 L1229.2 952.5 L1226.7 956.7 L1223.3 960.8 L1218.3 963.3 L1211.7 965.8 L1206.7 969.2 L1203.3 972.5 L1200 974.7 L1195.8 972.5 L1190.8 973.3 L1189.7 970ZM753.3 1031.7 L758.3 1028.3 L765 1030 L770 1029.2 L778.3 1030 L785 1031.7 L786.7 1035 L788.3 1039.2 L789.2 1043.3 L786.7 1045 L781.7 1047.5 L776.7 1046.7 L770 1045 L765 1042.5 L760.8 1039.2 L756.7 1035ZM788.3 1028.3 L793.3 1030 L796.7 1027.5 L800 1026.7 L800.8 1030.8 L806.7 1031.7 L811.7 1033.3 L813.3 1038.3 L815 1043.3 L811.7 1045 L810 1050 L809.2 1054.2 L813.3 1058.3 L815.8 1060.8 L813.3 1065 L810 1061.7 L806.7 1058.3 L801.7 1055.8 L796.7 1052.5 L793.3 1048.3 L790 1045.8 L788.3 1041.7 L791.7 1038.3 L790 1035ZM748.3 1008.3 L753.3 1010 L756.7 1006.7 L761.7 1003.3 L765 1005 L768.3 1010 L769.2 1015 L768.3 1019.2 L764.2 1018.7 L763.3 1014.2 L759.2 1013.3 L757.5 1016.7 L758.3 1020 L755 1016.7 L751.7 1012.5ZM823.3 1012.5 L827.5 1010.8 L828.3 1015 L826.7 1020 L822.5 1019.2ZM635 971.7 L636.7 966.7 L640 961.7 L645 959.2 L648.3 960.8 L651.7 957.5 L655.8 954.7 L659.2 956.7 L661.7 953.3 L666.7 955 L671.7 954.2 L676.7 953.3 L680.8 952.5 L678.3 956.7 L675 960 L671.7 963.3 L669.2 960.8 L667.5 958.3 L663.3 959.2 L660.8 957.5 L657.5 960 L653.3 960.8 L650 963.3 L646.7 965.8 L643.3 968.3 L640.8 973.3 L639.2 976.7 L636.7 975ZM934.2 974.2 L939.2 971.7 L943 970.3 L943.7 973.3 L940 975 L937.5 976.3ZM947.5 964.2 L950.8 960.8 L953 960.8 L952.5 964.2 L949.2 965.8ZM361.7 1025.8 L373.3 1026.7 L381.7 1028.3 L388.3 1031.7 L393.3 1036.7 L396.7 1041.7 L399.2 1047.5 L403.3 1050.8 L406.7 1055 L408.3 1061.7 L411.7 1065 L418.3 1069.2 L425 1071.7 L430.8 1073.3 L430 1075.3 L423.3 1074.2 L416.7 1071.7 L410 1066.7 L406.7 1062.5 L404.2 1056.7 L400 1051.7 L395.8 1046.7 L392.5 1040.8 L389.2 1035.8 L385 1031.7 L378.3 1030.8 L371.7 1030.8 L361.7 1034.2ZM565.8 1005 L570 1001.7 L574.2 998.3 L575 1000 L570.8 1003.3 L566.7 1007ZM598.3 738.3 L603.3 736.7 L606.7 739.2 L608.3 745 L606.7 750 L608.3 756.7 L610.8 763.3 L613.3 770 L611.7 775 L609.2 778.3 L605 776.7 L601.7 777.5 L604.2 771.7 L608.3 771.7 L610 768.3 L607.5 761.7 L605 755 L602.5 750 L604.2 745 L601.7 740.8ZM590.8 912.5 L594.2 911.7 L595.8 915 L594.2 917.5 L591.7 915.8ZM525 890 L529.2 890.8 L531.7 895 L533.3 896.7 L530 899.2 L525.3 898.7ZM715.8 932.5 L718.3 935.8 L723.3 937.5 L725.8 940 L726.3 945 L724.2 947.5 L727.5 950 L728.3 953.3 L725 953 L724.2 949.2 L720.8 945.8 L719.2 941.7 L717.5 937.5ZM706.7 924.2 L707.5 926.7 L705 931.7 L703.3 934.2 L704.2 930 L705.3 926.7Z" fill="#fff" stroke="#000" stroke-width="0.85" stroke-linejoin="round"/>
<path d="M505 294.7 L534.2 282.5M570.8 363.3 L572.5 376.7 L580 368.3M590 386.7 L596.7 382.5M555 380.8 L560 370M415 865 L418.3 870 L423.3 873.3 L425.8 878.3 L426.7 883.3 L425 887.5M434.2 886.7 L438.3 888.3 L442.5 890.8M786.7 1024.2 L790 1031.7 L793.3 1037.5M751.7 1031.7 L756.7 1028.3 L760 1024.2 L755 1026.7M574.2 861.7 L581.7 864.2 L590 866.7M1123.3 235 L1127.5 233.7 L1130.8 237.5 L1133.3 239.2M1133.3 225 L1137.5 225.8 L1140 224.2M1130.8 240 L1132.5 243.3M1470 312.5 L1473.3 310 L1480 307.5" fill="none" stroke="#000" stroke-width="0.85"/>
</g>
<rect x="363" y="122" width="1128" height="958.6" fill="none" stroke="#000" stroke-width="2.1"/>
<rect x="1412.4" y="774.1" width="55.7" height="286.9" fill="url(#cb)" stroke="#000" stroke-width="2.1"/>
<text transform="translate(1362.7 795.3) scale(1 1.08)" font-size="24.1" text-anchor="end">15.0</text>
<text transform="translate(1362.7 854.3) scale(1 1.08)" font-size="24.1" text-anchor="end">12.5</text>
<text transform="translate(1362.7 913.4) scale(1 1.08)" font-size="24.1" text-anchor="end">10.0</text>
<text transform="translate(1362.7 973.0) scale(1 1.08)" font-size="24.1" text-anchor="end">7.5</text>
<text transform="translate(1362.7 1032.4) scale(1 1.08)" font-size="24.1" text-anchor="end">5.0</text>
<path d="M1397.3 786.3 H1412.4M1397.3 845.3 H1412.4M1397.3 904.4 H1412.4M1397.3 964 H1412.4M1397.3 1023.4 H1412.4" stroke="#000" stroke-width="3.3" fill="none"/>
<text transform="translate(1439.6 748.7) scale(1 1.02)" font-size="24.2" text-anchor="middle">umol/l</text>
<circle cx="484.2" cy="391.5" r="14.6" fill="#f4eef6" stroke="#000" stroke-width="2.1"/>
<circle cx="511.7" cy="390" r="14.6" fill="#f5f0f7" stroke="#000" stroke-width="2.1"/>
<circle cx="526.7" cy="383.5" r="14.6" fill="#cdd0e6" stroke="#000" stroke-width="2.1"/>
<circle cx="559.7" cy="395.5" r="14.6" fill="#4496c4" stroke="#000" stroke-width="2.1"/>
<circle cx="548" cy="455.5" r="14.6" fill="#90b5d7" stroke="#000" stroke-width="2.1"/>
<path d="M536.5 490.5L565.1 490.5L550.8 519.1Z" fill="#d4d4e8" stroke="#000" stroke-width="2.1" stroke-linejoin="miter"/>
<circle cx="566.4" cy="503.1" r="14.6" fill="#cacde4" stroke="#000" stroke-width="2.1"/>
<circle cx="517.3" cy="515.3" r="14.6" fill="#6caace" stroke="#000" stroke-width="2.1"/>
<circle cx="503.6" cy="541.8" r="14.6" fill="#b9c6e0" stroke="#000" stroke-width="2.1"/>
<path d="M487 535.3L515.6 535.3L501.3 506.7Z" fill="#0a705e" stroke="#000" stroke-width="2.1" stroke-linejoin="miter"/>
<circle cx="507.8" cy="603.3" r="14.6" fill="#9ab9d9" stroke="#000" stroke-width="2.1"/>
<path d="M563.2 541.7L591.8 541.7L577.5 570.3Z" fill="#d4d4e8" stroke="#000" stroke-width="2.1" stroke-linejoin="miter"/>
<path d="M570.3 576.2L598.9 576.2L584.6 604.8Z" fill="#d4d4e8" stroke="#000" stroke-width="2.1" stroke-linejoin="miter"/>
<path d="M607.7 578.9L636.3 578.9L622 607.5Z" fill="#d4d4e8" stroke="#000" stroke-width="2.1" stroke-linejoin="miter"/>
<path d="M608.7 634.2L637.3 634.2L623 662.8Z" fill="#d4d4e8" stroke="#000" stroke-width="2.1" stroke-linejoin="miter"/>
<path d="M599.9 618.4L628.5 618.4L614.2 647Z" fill="#d4d4e8" stroke="#000" stroke-width="2.1" stroke-linejoin="miter"/>
<path d="M636.5 635.4L665.1 635.4L650.8 664Z" fill="#d4d4e8" stroke="#000" stroke-width="2.1" stroke-linejoin="miter"/>
<circle cx="537.2" cy="711.7" r="14.6" fill="#3f93c2" stroke="#000" stroke-width="2.1"/>
<circle cx="650" cy="711.7" r="14.6" fill="#027b7c" stroke="#000" stroke-width="2.1"/>
<circle cx="635" cy="696.7" r="14.6" fill="#1f89a6" stroke="#000" stroke-width="2.1"/>
<circle cx="669.2" cy="763.3" r="14.6" fill="#016d5b" stroke="#000" stroke-width="2.1"/>
<path d="M650.7 764.6L679.3 764.6L665 736Z" fill="#0a705e" stroke="#000" stroke-width="2.1" stroke-linejoin="miter"/>
<circle cx="681.7" cy="783.3" r="14.6" fill="#014b3b" stroke="#000" stroke-width="2.1"/>
<circle cx="835.7" cy="785.6" r="14.6" fill="#028088" stroke="#000" stroke-width="2.1"/>
<circle cx="873.3" cy="818.7" r="14.6" fill="#02828c" stroke="#000" stroke-width="2.1"/>
<circle cx="925" cy="837.8" r="14.6" fill="#017a70" stroke="#000" stroke-width="2.1"/>
<circle cx="710" cy="870.8" r="14.6" fill="#017466" stroke="#000" stroke-width="2.1"/>
<path d="M759.9 891.8L788.5 891.8L774.2 863.2Z" fill="#0a705e" stroke="#000" stroke-width="2.1" stroke-linejoin="miter"/>
<circle cx="1120" cy="797" r="14.6" fill="#02818a" stroke="#000" stroke-width="2.1"/>
<circle cx="1215.8" cy="638.8" r="14.6" fill="#02818a" stroke="#000" stroke-width="2.1"/>
<circle cx="1255" cy="538.7" r="14.6" fill="#017c74" stroke="#000" stroke-width="2.1"/>
<circle cx="1239" cy="436" r="14.6" fill="#017769" stroke="#000" stroke-width="2.1"/>
<circle cx="1086.7" cy="432.5" r="14.6" fill="#027e82" stroke="#000" stroke-width="2.1"/>
<circle cx="1106.7" cy="344.2" r="14.6" fill="#016a57" stroke="#000" stroke-width="2.1"/>
<circle cx="1275.3" cy="299.7" r="14.6" fill="#01634f" stroke="#000" stroke-width="2.1"/>
<path d="M432.8 1141L461.4 1141L447.1 1169.6Z" fill="#d4d4e8" stroke="#000" stroke-width="2.1" stroke-linejoin="miter"/>
<circle cx="815.5" cy="1156" r="14.6" fill="#4596c4" stroke="#000" stroke-width="2.1"/>
<path d="M1148.7 1171L1177.3 1171L1163 1142.4Z" fill="#0a705e" stroke="#000" stroke-width="2.1" stroke-linejoin="miter"/>
<text transform="translate(351.5 1020.3) scale(1 1.04)" font-size="33" text-anchor="end">54°N</text>
<text transform="translate(351.5 881.5) scale(1 1.04)" font-size="33" text-anchor="end">55°N</text>
<text transform="translate(351.5 739.2) scale(1 1.04)" font-size="33" text-anchor="end">56°N</text>
<text transform="translate(351.5 593.1) scale(1 1.04)" font-size="33" text-anchor="end">57°N</text>
<text transform="translate(351.5 443.0) scale(1 1.04)" font-size="33" text-anchor="end">58°N</text>
<text transform="translate(351.5 288.7) scale(1 1.04)" font-size="33" text-anchor="end">59°N</text>
<text transform="translate(364.5 1115.0) scale(1 1.04)" font-size="33" text-anchor="middle">9°E</text>
<text transform="translate(525.6 1115.0) scale(1 1.04)" font-size="33" text-anchor="middle">11°E</text>
<text transform="translate(686.8 1115.0) scale(1 1.04)" font-size="33" text-anchor="middle">13°E</text>
<text transform="translate(847.9 1115.0) scale(1 1.04)" font-size="33" text-anchor="middle">15°E</text>
<text transform="translate(1009.1 1115.0) scale(1 1.04)" font-size="33" text-anchor="middle">17°E</text>
<text transform="translate(1170.2 1115.0) scale(1 1.04)" font-size="33" text-anchor="middle">19°E</text>
<text transform="translate(1331.4 1115.0) scale(1 1.04)" font-size="33" text-anchor="middle">21°E</text>
<text transform="translate(507.0 1164.3) scale(1 1.04)" font-size="33">&lt; mean -1std*</text>
<text transform="translate(875.5 1164.3) scale(1 1.04)" font-size="33">mean ±1std*</text>
<text transform="translate(1222.5 1164.3) scale(1 1.04)" font-size="33">&gt; mean +1std*</text>
</svg></body></html>
